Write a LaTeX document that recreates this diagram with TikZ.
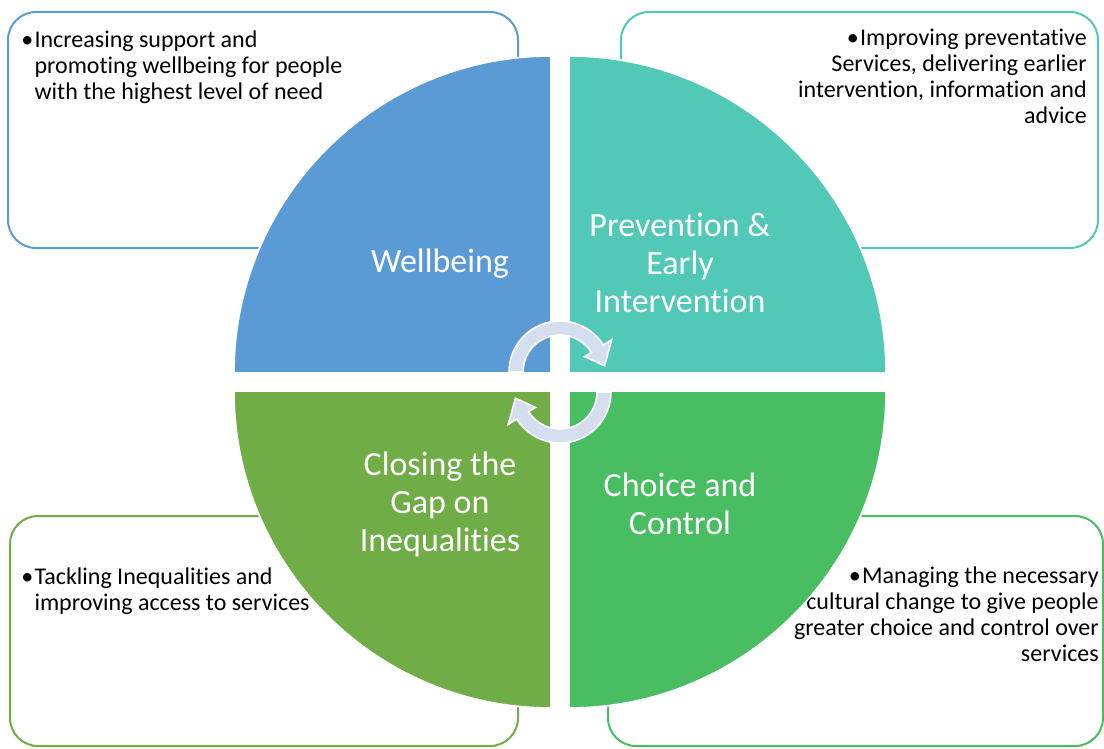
\documentclass[tikz,border=0pt]{standalone}
\usepackage{fontspec}
\setmainfont{Carlito}[Ligatures=CommonOff]
\definecolor{blueq}{HTML}{5B9BD5}
\definecolor{tealq}{HTML}{52C8B6}
\definecolor{oliveq}{HTML}{70AD47}
\definecolor{greenq}{HTML}{48BD62}
\definecolor{cyclefill}{HTML}{D5DEEF}
\begin{document}
\begin{tikzpicture}[x=0.75pt,y=-0.75pt,
  infobox/.style={draw=#1, line width=1.5pt, rounded corners=21pt, fill=white,
    rectangle, inner sep=0pt},
  infotext/.style={inner sep=0pt, font=\fontsize{18}{19.5}\selectfont, text=black},
  quarter/.style={fill=#1, draw=white, line width=1.2pt},
  qlabel/.style={inner sep=0pt, align=center, text=white,
    font=\fontsize{25.5}{28.5}\selectfont},
  cyclearrow/.style={fill=cyclefill, draw=white, line width=1.2pt, line join=miter}]
\useasboundingbox (0,0) rectangle (1104,749);

% outer rounded boxes with their bullet texts
\node[infobox=blueq,  minimum width=382.5pt, minimum height=177pt] (boxWB) at (263,130) {};
\node[infobox=tealq,  minimum width=357.75pt, minimum height=177pt] (boxPE) at (859.5,130) {};
\node[infobox=oliveq, minimum width=381pt, minimum height=172.5pt] (boxCG) at (264,631) {};
\node[infobox=greenq, minimum width=371.25pt, minimum height=172.5pt] (boxCC) at (855.5,631) {};

\node[infotext, anchor=north west] (txtWB) at (21,29)
  {\begin{tabular}{@{}l@{\hspace{1pt}}l@{}}•&Increasing support and\\ &promoting wellbeing for people\\ &with the highest level of need\end{tabular}};
\node[infotext, anchor=north east, align=right] (txtPE) at (1087,29)
  {•\hspace{1pt}Improving preventative\\Services, delivering earlier\\intervention, information and\\advice};
\node[infotext, anchor=north west] (txtCG) at (21,566)
  {\begin{tabular}{@{}l@{\hspace{1pt}}l@{}}•&Tackling Inequalities and\\ &improving access to services\end{tabular}};
\node[infotext, anchor=north east, align=right] (txtCC) at (1099,567)
  {•\hspace{1pt}Managing the necessary\\cultural change to give people\\greater choice and control over\\services};

% four quarters of the central disc
\fill[quarter=blueq]  (551,373) -- ++(-317,0) arc[start angle=180, end angle=270, radius=317] -- cycle;
\fill[quarter=tealq]  (569,373) -- ++(0,-317) arc[start angle=270, end angle=360, radius=317] -- cycle;
\fill[quarter=greenq] (569,391) -- ++(317,0) arc[start angle=0, end angle=90, radius=317] -- cycle;
\fill[quarter=oliveq] (551,391) -- ++(0,317) arc[start angle=90, end angle=180, radius=317] -- cycle;
\draw[quarter=blueq]  (551,373) -- ++(-317,0) arc[start angle=180, end angle=270, radius=317] -- cycle;
\draw[quarter=tealq]  (569,373) -- ++(0,-317) arc[start angle=270, end angle=360, radius=317] -- cycle;
\draw[quarter=greenq] (569,391) -- ++(317,0) arc[start angle=0, end angle=90, radius=317] -- cycle;
\draw[quarter=oliveq] (551,391) -- ++(0,317) arc[start angle=90, end angle=180, radius=317] -- cycle;

\node[qlabel] (lblWB) at (440,264) {Wellbeing};
\node[qlabel] (lblPE) at (680,263) {Prevention \&\\Early\\Intervention};
\node[qlabel] (lblCG) at (440,504) {Closing the\\Gap on\\Inequalities};
\node[qlabel] (lblCC) at (680,504) {Choice and\\Control};

% the two curved arrows of the cycle
\begin{scope}[shift={(560,372)}, yscale=-1]
  \draw[cyclearrow] (180:51) arc[start angle=180, end angle=32, radius=51]
    -- (32:61) -- (8:45) -- (32:29) -- (32:37)
    arc[start angle=32, end angle=180, radius=37] -- cycle;
\end{scope}
\begin{scope}[shift={(560,392)}, yscale=-1, rotate=180]
  \draw[cyclearrow] (180:51) arc[start angle=180, end angle=32, radius=51]
    -- (32:61) -- (8:45) -- (32:29) -- (32:37)
    arc[start angle=32, end angle=180, radius=37] -- cycle;
\end{scope}
\end{tikzpicture}
\end{document}
